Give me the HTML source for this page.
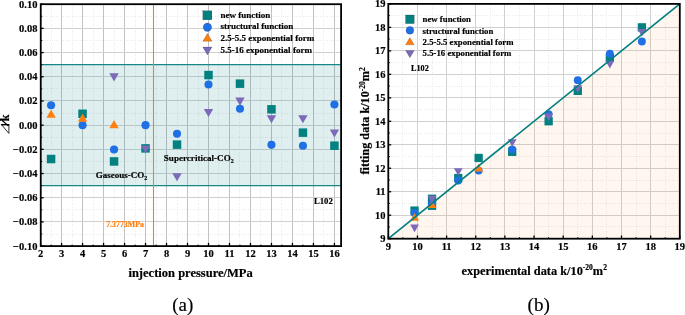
<!DOCTYPE html>
<html><head><meta charset="utf-8"><title>chart</title>
<style>html,body{margin:0;padding:0;background:#fff;}body{width:685px;height:315px;overflow:hidden;font-family:"Liberation Serif",serif;}</style>
</head><body>
<svg width="685" height="315" viewBox="0 0 685 315" style="display:block;will-change:transform">
<rect width="685" height="315" fill="#fff"/>
<g>
<line x1="51.09" x2="51.09" y1="4.2" y2="246.1" stroke="#ececec" stroke-width="1" stroke-dasharray="1 1.2" shape-rendering="crispEdges"/>
<line x1="72.08" x2="72.08" y1="4.2" y2="246.1" stroke="#ececec" stroke-width="1" stroke-dasharray="1 1.2" shape-rendering="crispEdges"/>
<line x1="93.07" x2="93.07" y1="4.2" y2="246.1" stroke="#ececec" stroke-width="1" stroke-dasharray="1 1.2" shape-rendering="crispEdges"/>
<line x1="114.05" x2="114.05" y1="4.2" y2="246.1" stroke="#ececec" stroke-width="1" stroke-dasharray="1 1.2" shape-rendering="crispEdges"/>
<line x1="135.04" x2="135.04" y1="4.2" y2="246.1" stroke="#ececec" stroke-width="1" stroke-dasharray="1 1.2" shape-rendering="crispEdges"/>
<line x1="156.03" x2="156.03" y1="4.2" y2="246.1" stroke="#ececec" stroke-width="1" stroke-dasharray="1 1.2" shape-rendering="crispEdges"/>
<line x1="177.02" x2="177.02" y1="4.2" y2="246.1" stroke="#ececec" stroke-width="1" stroke-dasharray="1 1.2" shape-rendering="crispEdges"/>
<line x1="198.00" x2="198.00" y1="4.2" y2="246.1" stroke="#ececec" stroke-width="1" stroke-dasharray="1 1.2" shape-rendering="crispEdges"/>
<line x1="218.99" x2="218.99" y1="4.2" y2="246.1" stroke="#ececec" stroke-width="1" stroke-dasharray="1 1.2" shape-rendering="crispEdges"/>
<line x1="239.98" x2="239.98" y1="4.2" y2="246.1" stroke="#ececec" stroke-width="1" stroke-dasharray="1 1.2" shape-rendering="crispEdges"/>
<line x1="260.96" x2="260.96" y1="4.2" y2="246.1" stroke="#ececec" stroke-width="1" stroke-dasharray="1 1.2" shape-rendering="crispEdges"/>
<line x1="281.95" x2="281.95" y1="4.2" y2="246.1" stroke="#ececec" stroke-width="1" stroke-dasharray="1 1.2" shape-rendering="crispEdges"/>
<line x1="302.94" x2="302.94" y1="4.2" y2="246.1" stroke="#ececec" stroke-width="1" stroke-dasharray="1 1.2" shape-rendering="crispEdges"/>
<line x1="323.92" x2="323.92" y1="4.2" y2="246.1" stroke="#ececec" stroke-width="1" stroke-dasharray="1 1.2" shape-rendering="crispEdges"/>
<line x1="40.75" x2="341.1" y1="16.30" y2="16.30" stroke="#ececec" stroke-width="1" stroke-dasharray="1 1.2" shape-rendering="crispEdges"/>
<line x1="40.75" x2="341.1" y1="40.49" y2="40.49" stroke="#ececec" stroke-width="1" stroke-dasharray="1 1.2" shape-rendering="crispEdges"/>
<line x1="40.75" x2="341.1" y1="64.68" y2="64.68" stroke="#ececec" stroke-width="1" stroke-dasharray="1 1.2" shape-rendering="crispEdges"/>
<line x1="40.75" x2="341.1" y1="88.87" y2="88.87" stroke="#ececec" stroke-width="1" stroke-dasharray="1 1.2" shape-rendering="crispEdges"/>
<line x1="40.75" x2="341.1" y1="113.06" y2="113.06" stroke="#ececec" stroke-width="1" stroke-dasharray="1 1.2" shape-rendering="crispEdges"/>
<line x1="40.75" x2="341.1" y1="137.25" y2="137.25" stroke="#ececec" stroke-width="1" stroke-dasharray="1 1.2" shape-rendering="crispEdges"/>
<line x1="40.75" x2="341.1" y1="161.44" y2="161.44" stroke="#ececec" stroke-width="1" stroke-dasharray="1 1.2" shape-rendering="crispEdges"/>
<line x1="40.75" x2="341.1" y1="185.62" y2="185.62" stroke="#ececec" stroke-width="1" stroke-dasharray="1 1.2" shape-rendering="crispEdges"/>
<line x1="40.75" x2="341.1" y1="209.81" y2="209.81" stroke="#ececec" stroke-width="1" stroke-dasharray="1 1.2" shape-rendering="crispEdges"/>
<line x1="40.75" x2="341.1" y1="234.00" y2="234.00" stroke="#ececec" stroke-width="1" stroke-dasharray="1 1.2" shape-rendering="crispEdges"/>
<line x1="61.59" x2="61.59" y1="4.2" y2="246.1" stroke="#c2c2c2" stroke-width="1" shape-rendering="crispEdges"/>
<line x1="82.57" x2="82.57" y1="4.2" y2="246.1" stroke="#c2c2c2" stroke-width="1" shape-rendering="crispEdges"/>
<line x1="103.56" x2="103.56" y1="4.2" y2="246.1" stroke="#c2c2c2" stroke-width="1" shape-rendering="crispEdges"/>
<line x1="124.55" x2="124.55" y1="4.2" y2="246.1" stroke="#c2c2c2" stroke-width="1" shape-rendering="crispEdges"/>
<line x1="145.53" x2="145.53" y1="4.2" y2="246.1" stroke="#c2c2c2" stroke-width="1" shape-rendering="crispEdges"/>
<line x1="166.52" x2="166.52" y1="4.2" y2="246.1" stroke="#c2c2c2" stroke-width="1" shape-rendering="crispEdges"/>
<line x1="187.51" x2="187.51" y1="4.2" y2="246.1" stroke="#c2c2c2" stroke-width="1" shape-rendering="crispEdges"/>
<line x1="208.50" x2="208.50" y1="4.2" y2="246.1" stroke="#c2c2c2" stroke-width="1" shape-rendering="crispEdges"/>
<line x1="229.48" x2="229.48" y1="4.2" y2="246.1" stroke="#c2c2c2" stroke-width="1" shape-rendering="crispEdges"/>
<line x1="250.47" x2="250.47" y1="4.2" y2="246.1" stroke="#c2c2c2" stroke-width="1" shape-rendering="crispEdges"/>
<line x1="271.46" x2="271.46" y1="4.2" y2="246.1" stroke="#c2c2c2" stroke-width="1" shape-rendering="crispEdges"/>
<line x1="292.44" x2="292.44" y1="4.2" y2="246.1" stroke="#c2c2c2" stroke-width="1" shape-rendering="crispEdges"/>
<line x1="313.43" x2="313.43" y1="4.2" y2="246.1" stroke="#c2c2c2" stroke-width="1" shape-rendering="crispEdges"/>
<line x1="334.42" x2="334.42" y1="4.2" y2="246.1" stroke="#c2c2c2" stroke-width="1" shape-rendering="crispEdges"/>
<line x1="40.75" x2="341.1" y1="28.39" y2="28.39" stroke="#d0d0d0" stroke-width="1" shape-rendering="crispEdges"/>
<line x1="40.75" x2="341.1" y1="52.58" y2="52.58" stroke="#d0d0d0" stroke-width="1" shape-rendering="crispEdges"/>
<line x1="40.75" x2="341.1" y1="76.77" y2="76.77" stroke="#d0d0d0" stroke-width="1" shape-rendering="crispEdges"/>
<line x1="40.75" x2="341.1" y1="100.96" y2="100.96" stroke="#d0d0d0" stroke-width="1" shape-rendering="crispEdges"/>
<line x1="40.75" x2="341.1" y1="125.15" y2="125.15" stroke="#d0d0d0" stroke-width="1" shape-rendering="crispEdges"/>
<line x1="40.75" x2="341.1" y1="149.34" y2="149.34" stroke="#d0d0d0" stroke-width="1" shape-rendering="crispEdges"/>
<line x1="40.75" x2="341.1" y1="173.53" y2="173.53" stroke="#d0d0d0" stroke-width="1" shape-rendering="crispEdges"/>
<line x1="40.75" x2="341.1" y1="197.72" y2="197.72" stroke="#d0d0d0" stroke-width="1" shape-rendering="crispEdges"/>
<line x1="40.75" x2="341.1" y1="221.91" y2="221.91" stroke="#d0d0d0" stroke-width="1" shape-rendering="crispEdges"/>
<rect x="40.75" y="64.67" width="300.35" height="120.95" fill="#008080" fill-opacity="0.125"/>
<line x1="40.75" x2="341.1" y1="64.67" y2="64.67" stroke="#178786" stroke-width="1.3"/>
<line x1="40.75" x2="341.1" y1="185.62" y2="185.62" stroke="#178786" stroke-width="1.3"/>
<line x1="153.5" x2="153.5" y1="4.2" y2="246.1" stroke="#ff7f0e" stroke-width="1.1"/>
<rect x="46.84" y="154.77" width="8.5" height="8.5" fill="#038080"/>
<rect x="78.32" y="109.53" width="8.5" height="8.5" fill="#038080"/>
<rect x="109.80" y="157.19" width="8.5" height="8.5" fill="#038080"/>
<rect x="141.28" y="144.12" width="8.5" height="8.5" fill="#038080"/>
<rect x="172.77" y="140.37" width="8.5" height="8.5" fill="#038080"/>
<rect x="204.25" y="70.83" width="8.5" height="8.5" fill="#038080"/>
<rect x="235.73" y="79.41" width="8.5" height="8.5" fill="#038080"/>
<rect x="267.21" y="105.06" width="8.5" height="8.5" fill="#038080"/>
<rect x="298.69" y="128.40" width="8.5" height="8.5" fill="#038080"/>
<rect x="330.17" y="141.46" width="8.5" height="8.5" fill="#038080"/>
<circle cx="51.09" cy="105.19" r="4.05" fill="#1f6fe5"/>
<circle cx="82.57" cy="125.15" r="4.05" fill="#1f6fe5"/>
<circle cx="114.05" cy="149.46" r="4.05" fill="#1f6fe5"/>
<circle cx="145.53" cy="125.15" r="4.05" fill="#1f6fe5"/>
<circle cx="177.02" cy="133.74" r="4.05" fill="#1f6fe5"/>
<circle cx="208.50" cy="84.51" r="4.05" fill="#1f6fe5"/>
<circle cx="239.98" cy="108.82" r="4.05" fill="#1f6fe5"/>
<circle cx="271.46" cy="144.86" r="4.05" fill="#1f6fe5"/>
<circle cx="302.94" cy="145.71" r="4.05" fill="#1f6fe5"/>
<circle cx="334.42" cy="104.47" r="4.05" fill="#1f6fe5"/>
<polygon points="51.09,109.57 55.79,117.67 46.39,117.67" fill="#ff7f0e"/>
<polygon points="82.57,113.56 87.27,121.66 77.87,121.66" fill="#ff7f0e"/>
<polygon points="114.05,120.09 118.75,128.19 109.35,128.19" fill="#ff7f0e"/>
<polygon points="109.35,73.37 118.75,73.37 114.05,81.47" fill="#7c69b8"/>
<polygon points="140.84,145.45 150.23,145.45 145.53,153.55" fill="#7c69b8"/>
<polygon points="172.32,173.15 181.72,173.15 177.02,181.25" fill="#7c69b8"/>
<polygon points="203.80,108.93 213.20,108.93 208.50,117.03" fill="#7c69b8"/>
<polygon points="235.28,97.56 244.68,97.56 239.98,105.66" fill="#7c69b8"/>
<polygon points="266.76,115.22 276.16,115.22 271.46,123.32" fill="#7c69b8"/>
<polygon points="298.24,115.22 307.64,115.22 302.94,123.32" fill="#7c69b8"/>
<polygon points="329.72,129.49 339.12,129.49 334.42,137.59" fill="#7c69b8"/>
<line x1="40.60" x2="40.60" y1="246.1" y2="242.9" stroke="#000" stroke-width="1.3"/>
<line x1="61.59" x2="61.59" y1="246.1" y2="242.9" stroke="#000" stroke-width="1.3"/>
<line x1="82.57" x2="82.57" y1="246.1" y2="242.9" stroke="#000" stroke-width="1.3"/>
<line x1="103.56" x2="103.56" y1="246.1" y2="242.9" stroke="#000" stroke-width="1.3"/>
<line x1="124.55" x2="124.55" y1="246.1" y2="242.9" stroke="#000" stroke-width="1.3"/>
<line x1="145.53" x2="145.53" y1="246.1" y2="242.9" stroke="#000" stroke-width="1.3"/>
<line x1="166.52" x2="166.52" y1="246.1" y2="242.9" stroke="#000" stroke-width="1.3"/>
<line x1="187.51" x2="187.51" y1="246.1" y2="242.9" stroke="#000" stroke-width="1.3"/>
<line x1="208.50" x2="208.50" y1="246.1" y2="242.9" stroke="#000" stroke-width="1.3"/>
<line x1="229.48" x2="229.48" y1="246.1" y2="242.9" stroke="#000" stroke-width="1.3"/>
<line x1="250.47" x2="250.47" y1="246.1" y2="242.9" stroke="#000" stroke-width="1.3"/>
<line x1="271.46" x2="271.46" y1="246.1" y2="242.9" stroke="#000" stroke-width="1.3"/>
<line x1="292.44" x2="292.44" y1="246.1" y2="242.9" stroke="#000" stroke-width="1.3"/>
<line x1="313.43" x2="313.43" y1="246.1" y2="242.9" stroke="#000" stroke-width="1.3"/>
<line x1="334.42" x2="334.42" y1="246.1" y2="242.9" stroke="#000" stroke-width="1.3"/>
<line x1="51.09" x2="51.09" y1="246.1" y2="244.6" stroke="#000" stroke-width="1.0"/>
<line x1="72.08" x2="72.08" y1="246.1" y2="244.6" stroke="#000" stroke-width="1.0"/>
<line x1="93.07" x2="93.07" y1="246.1" y2="244.6" stroke="#000" stroke-width="1.0"/>
<line x1="114.05" x2="114.05" y1="246.1" y2="244.6" stroke="#000" stroke-width="1.0"/>
<line x1="135.04" x2="135.04" y1="246.1" y2="244.6" stroke="#000" stroke-width="1.0"/>
<line x1="156.03" x2="156.03" y1="246.1" y2="244.6" stroke="#000" stroke-width="1.0"/>
<line x1="177.02" x2="177.02" y1="246.1" y2="244.6" stroke="#000" stroke-width="1.0"/>
<line x1="198.00" x2="198.00" y1="246.1" y2="244.6" stroke="#000" stroke-width="1.0"/>
<line x1="218.99" x2="218.99" y1="246.1" y2="244.6" stroke="#000" stroke-width="1.0"/>
<line x1="239.98" x2="239.98" y1="246.1" y2="244.6" stroke="#000" stroke-width="1.0"/>
<line x1="260.96" x2="260.96" y1="246.1" y2="244.6" stroke="#000" stroke-width="1.0"/>
<line x1="281.95" x2="281.95" y1="246.1" y2="244.6" stroke="#000" stroke-width="1.0"/>
<line x1="302.94" x2="302.94" y1="246.1" y2="244.6" stroke="#000" stroke-width="1.0"/>
<line x1="323.92" x2="323.92" y1="246.1" y2="244.6" stroke="#000" stroke-width="1.0"/>
<line x1="40.75" x2="43.65" y1="4.20" y2="4.20" stroke="#000" stroke-width="1.3"/>
<line x1="40.75" x2="43.65" y1="28.39" y2="28.39" stroke="#000" stroke-width="1.3"/>
<line x1="40.75" x2="43.65" y1="52.58" y2="52.58" stroke="#000" stroke-width="1.3"/>
<line x1="40.75" x2="43.65" y1="76.77" y2="76.77" stroke="#000" stroke-width="1.3"/>
<line x1="40.75" x2="43.65" y1="100.96" y2="100.96" stroke="#000" stroke-width="1.3"/>
<line x1="40.75" x2="43.65" y1="125.15" y2="125.15" stroke="#000" stroke-width="1.3"/>
<line x1="40.75" x2="43.65" y1="149.34" y2="149.34" stroke="#000" stroke-width="1.3"/>
<line x1="40.75" x2="43.65" y1="173.53" y2="173.53" stroke="#000" stroke-width="1.3"/>
<line x1="40.75" x2="43.65" y1="197.72" y2="197.72" stroke="#000" stroke-width="1.3"/>
<line x1="40.75" x2="43.65" y1="221.91" y2="221.91" stroke="#000" stroke-width="1.3"/>
<line x1="40.75" x2="43.65" y1="246.10" y2="246.10" stroke="#000" stroke-width="1.3"/>
<line x1="40.75" x2="42.25" y1="16.30" y2="16.30" stroke="#000" stroke-width="1.0"/>
<line x1="40.75" x2="42.25" y1="40.49" y2="40.49" stroke="#000" stroke-width="1.0"/>
<line x1="40.75" x2="42.25" y1="64.68" y2="64.68" stroke="#000" stroke-width="1.0"/>
<line x1="40.75" x2="42.25" y1="88.87" y2="88.87" stroke="#000" stroke-width="1.0"/>
<line x1="40.75" x2="42.25" y1="113.06" y2="113.06" stroke="#000" stroke-width="1.0"/>
<line x1="40.75" x2="42.25" y1="137.25" y2="137.25" stroke="#000" stroke-width="1.0"/>
<line x1="40.75" x2="42.25" y1="161.44" y2="161.44" stroke="#000" stroke-width="1.0"/>
<line x1="40.75" x2="42.25" y1="185.62" y2="185.62" stroke="#000" stroke-width="1.0"/>
<line x1="40.75" x2="42.25" y1="209.81" y2="209.81" stroke="#000" stroke-width="1.0"/>
<line x1="40.75" x2="42.25" y1="234.00" y2="234.00" stroke="#000" stroke-width="1.0"/>
<rect x="40.75" y="4.2" width="300.35" height="241.9" fill="none" stroke="#000" stroke-width="1.8"/>
</g>
<g font-family="Liberation Serif, serif" font-weight="bold" fill="#000" stroke="#000" stroke-width="0.18">
<text x="37.4" y="7.70" font-size="10.5" text-anchor="end">0.10</text>
<text x="37.4" y="31.89" font-size="10.5" text-anchor="end">0.08</text>
<text x="37.4" y="56.08" font-size="10.5" text-anchor="end">0.06</text>
<text x="37.4" y="80.27" font-size="10.5" text-anchor="end">0.04</text>
<text x="37.4" y="104.46" font-size="10.5" text-anchor="end">0.02</text>
<text x="37.4" y="128.65" font-size="10.5" text-anchor="end">0.00</text>
<text x="37.4" y="152.84" font-size="10.5" text-anchor="end">−0.02</text>
<text x="37.4" y="177.03" font-size="10.5" text-anchor="end">−0.04</text>
<text x="37.4" y="201.22" font-size="10.5" text-anchor="end">−0.06</text>
<text x="37.4" y="225.41" font-size="10.5" text-anchor="end">−0.08</text>
<text x="37.4" y="249.60" font-size="10.5" text-anchor="end">−0.10</text>
<text x="40.60" y="257.4" font-size="10.5" text-anchor="middle">2</text>
<text x="61.59" y="257.4" font-size="10.5" text-anchor="middle">3</text>
<text x="82.57" y="257.4" font-size="10.5" text-anchor="middle">4</text>
<text x="103.56" y="257.4" font-size="10.5" text-anchor="middle">5</text>
<text x="124.55" y="257.4" font-size="10.5" text-anchor="middle">6</text>
<text x="145.53" y="257.4" font-size="10.5" text-anchor="middle">7</text>
<text x="166.52" y="257.4" font-size="10.5" text-anchor="middle">8</text>
<text x="187.51" y="257.4" font-size="10.5" text-anchor="middle">9</text>
<text x="208.50" y="257.4" font-size="10.5" text-anchor="middle">10</text>
<text x="229.48" y="257.4" font-size="10.5" text-anchor="middle">11</text>
<text x="250.47" y="257.4" font-size="10.5" text-anchor="middle">12</text>
<text x="271.46" y="257.4" font-size="10.5" text-anchor="middle">13</text>
<text x="292.44" y="257.4" font-size="10.5" text-anchor="middle">14</text>
<text x="313.43" y="257.4" font-size="10.5" text-anchor="middle">15</text>
<text x="334.42" y="257.4" font-size="10.5" text-anchor="middle">16</text>
<text x="190.6" y="276.8" font-size="12.53" text-anchor="middle" id="lxl">injection pressure/MPa</text>
<text transform="translate(9.3,121.3) rotate(-90)" font-size="12.2" id="lyl">k</text>
<line x1="8.4" y1="125.9" x2="2.0" y2="120.3" stroke="#000" stroke-width="1.25"/>
<path d="M8.9,133.4 L8.9,124.6 L1.4,124.6 Z" fill="none" stroke="#000" stroke-width="0.8" stroke-linejoin="miter"/>
<line x1="9.3" y1="124.7" x2="1.0" y2="124.7" stroke="#000" stroke-width="1.3"/>
<text x="182.8" y="310.9" font-size="18.95" text-anchor="middle" font-weight="normal" id="la">(a)</text>
<rect x="202.90" y="10.80" width="9.0" height="9.0" fill="#038080"/>
<circle cx="207.40" cy="27.20" r="4.2" fill="#1f6fe5"/>
<polygon points="207.40,33.48 212.00,41.28 202.80,41.28" fill="#ff7f0e"/>
<polygon points="202.80,47.12 212.00,47.12 207.40,54.92" fill="#7c69b8"/>
<text x="220.5" y="18.1" font-size="9.03" class="lleg">new function</text>
<text x="220.5" y="29.3" font-size="9.03" class="lleg">structural function</text>
<text x="220.5" y="41.3" font-size="9.03" class="lleg">2.5-5.5 exponential form</text>
<text x="220.5" y="52.5" font-size="9.03" class="lleg">5.5-16 exponential form</text>
<text x="313.9" y="204.3" font-size="8.73" id="ll102">L102</text>
<text x="95.8" y="178" font-size="9" id="gas">Gaseous-CO<tspan font-size="6" dy="2">2</tspan></text>
<text x="163.8" y="161.0" font-size="9.08" id="sup">Supercritical-CO<tspan font-size="6" dy="2">2</tspan></text>
<text x="106.2" y="226.7" font-size="7.87" fill="#ff7f0e" stroke="#ff7f0e" id="mpa">7.3773MPa</text>
</g>
<g>
<line x1="402.88" x2="402.88" y1="3.9" y2="238.7" stroke="#ececec" stroke-width="1" stroke-dasharray="1 1.2" shape-rendering="crispEdges"/>
<line x1="388.3" x2="679.8" y1="226.96" y2="226.96" stroke="#ececec" stroke-width="1" stroke-dasharray="1 1.2" shape-rendering="crispEdges"/>
<line x1="432.02" x2="432.02" y1="3.9" y2="238.7" stroke="#ececec" stroke-width="1" stroke-dasharray="1 1.2" shape-rendering="crispEdges"/>
<line x1="388.3" x2="679.8" y1="203.48" y2="203.48" stroke="#ececec" stroke-width="1" stroke-dasharray="1 1.2" shape-rendering="crispEdges"/>
<line x1="461.18" x2="461.18" y1="3.9" y2="238.7" stroke="#ececec" stroke-width="1" stroke-dasharray="1 1.2" shape-rendering="crispEdges"/>
<line x1="388.3" x2="679.8" y1="180.00" y2="180.00" stroke="#ececec" stroke-width="1" stroke-dasharray="1 1.2" shape-rendering="crispEdges"/>
<line x1="490.32" x2="490.32" y1="3.9" y2="238.7" stroke="#ececec" stroke-width="1" stroke-dasharray="1 1.2" shape-rendering="crispEdges"/>
<line x1="388.3" x2="679.8" y1="156.52" y2="156.52" stroke="#ececec" stroke-width="1" stroke-dasharray="1 1.2" shape-rendering="crispEdges"/>
<line x1="519.48" x2="519.48" y1="3.9" y2="238.7" stroke="#ececec" stroke-width="1" stroke-dasharray="1 1.2" shape-rendering="crispEdges"/>
<line x1="388.3" x2="679.8" y1="133.04" y2="133.04" stroke="#ececec" stroke-width="1" stroke-dasharray="1 1.2" shape-rendering="crispEdges"/>
<line x1="548.62" x2="548.62" y1="3.9" y2="238.7" stroke="#ececec" stroke-width="1" stroke-dasharray="1 1.2" shape-rendering="crispEdges"/>
<line x1="388.3" x2="679.8" y1="109.56" y2="109.56" stroke="#ececec" stroke-width="1" stroke-dasharray="1 1.2" shape-rendering="crispEdges"/>
<line x1="577.77" x2="577.77" y1="3.9" y2="238.7" stroke="#ececec" stroke-width="1" stroke-dasharray="1 1.2" shape-rendering="crispEdges"/>
<line x1="388.3" x2="679.8" y1="86.08" y2="86.08" stroke="#ececec" stroke-width="1" stroke-dasharray="1 1.2" shape-rendering="crispEdges"/>
<line x1="606.92" x2="606.92" y1="3.9" y2="238.7" stroke="#ececec" stroke-width="1" stroke-dasharray="1 1.2" shape-rendering="crispEdges"/>
<line x1="388.3" x2="679.8" y1="62.60" y2="62.60" stroke="#ececec" stroke-width="1" stroke-dasharray="1 1.2" shape-rendering="crispEdges"/>
<line x1="636.07" x2="636.07" y1="3.9" y2="238.7" stroke="#ececec" stroke-width="1" stroke-dasharray="1 1.2" shape-rendering="crispEdges"/>
<line x1="388.3" x2="679.8" y1="39.12" y2="39.12" stroke="#ececec" stroke-width="1" stroke-dasharray="1 1.2" shape-rendering="crispEdges"/>
<line x1="665.22" x2="665.22" y1="3.9" y2="238.7" stroke="#ececec" stroke-width="1" stroke-dasharray="1 1.2" shape-rendering="crispEdges"/>
<line x1="388.3" x2="679.8" y1="15.64" y2="15.64" stroke="#ececec" stroke-width="1" stroke-dasharray="1 1.2" shape-rendering="crispEdges"/>
<line x1="417.45" x2="417.45" y1="3.9" y2="238.7" stroke="#d0d0d0" stroke-width="1" shape-rendering="crispEdges"/>
<line x1="388.3" x2="679.8" y1="215.22" y2="215.22" stroke="#d0d0d0" stroke-width="1" shape-rendering="crispEdges"/>
<line x1="446.60" x2="446.60" y1="3.9" y2="238.7" stroke="#d0d0d0" stroke-width="1" shape-rendering="crispEdges"/>
<line x1="388.3" x2="679.8" y1="191.74" y2="191.74" stroke="#d0d0d0" stroke-width="1" shape-rendering="crispEdges"/>
<line x1="475.75" x2="475.75" y1="3.9" y2="238.7" stroke="#d0d0d0" stroke-width="1" shape-rendering="crispEdges"/>
<line x1="388.3" x2="679.8" y1="168.26" y2="168.26" stroke="#d0d0d0" stroke-width="1" shape-rendering="crispEdges"/>
<line x1="504.90" x2="504.90" y1="3.9" y2="238.7" stroke="#d0d0d0" stroke-width="1" shape-rendering="crispEdges"/>
<line x1="388.3" x2="679.8" y1="144.78" y2="144.78" stroke="#d0d0d0" stroke-width="1" shape-rendering="crispEdges"/>
<line x1="534.05" x2="534.05" y1="3.9" y2="238.7" stroke="#d0d0d0" stroke-width="1" shape-rendering="crispEdges"/>
<line x1="388.3" x2="679.8" y1="121.30" y2="121.30" stroke="#d0d0d0" stroke-width="1" shape-rendering="crispEdges"/>
<line x1="563.20" x2="563.20" y1="3.9" y2="238.7" stroke="#d0d0d0" stroke-width="1" shape-rendering="crispEdges"/>
<line x1="388.3" x2="679.8" y1="97.82" y2="97.82" stroke="#d0d0d0" stroke-width="1" shape-rendering="crispEdges"/>
<line x1="592.35" x2="592.35" y1="3.9" y2="238.7" stroke="#d0d0d0" stroke-width="1" shape-rendering="crispEdges"/>
<line x1="388.3" x2="679.8" y1="74.34" y2="74.34" stroke="#d0d0d0" stroke-width="1" shape-rendering="crispEdges"/>
<line x1="621.50" x2="621.50" y1="3.9" y2="238.7" stroke="#d0d0d0" stroke-width="1" shape-rendering="crispEdges"/>
<line x1="388.3" x2="679.8" y1="50.86" y2="50.86" stroke="#d0d0d0" stroke-width="1" shape-rendering="crispEdges"/>
<line x1="650.65" x2="650.65" y1="3.9" y2="238.7" stroke="#d0d0d0" stroke-width="1" shape-rendering="crispEdges"/>
<line x1="388.3" x2="679.8" y1="27.38" y2="27.38" stroke="#d0d0d0" stroke-width="1" shape-rendering="crispEdges"/>
<polygon points="388.3,238.7 679.8,3.9 679.8,238.7" fill="#ff7f0e" fill-opacity="0.065"/>
<rect x="474.51" y="153.81" width="8.3" height="8.3" fill="#038080"/>
<rect x="427.88" y="201.65" width="8.3" height="8.3" fill="#038080"/>
<rect x="410.39" y="206.44" width="8.3" height="8.3" fill="#038080"/>
<rect x="427.88" y="194.60" width="8.3" height="8.3" fill="#038080"/>
<rect x="454.11" y="173.89" width="8.3" height="8.3" fill="#038080"/>
<rect x="508.04" y="147.64" width="8.3" height="8.3" fill="#038080"/>
<rect x="544.48" y="117.09" width="8.3" height="8.3" fill="#038080"/>
<rect x="573.62" y="86.70" width="8.3" height="8.3" fill="#038080"/>
<rect x="605.69" y="53.69" width="8.3" height="8.3" fill="#038080"/>
<rect x="637.75" y="23.21" width="8.3" height="8.3" fill="#038080"/>
<circle cx="478.66" cy="170.60" r="3.95" fill="#1f6fe5"/>
<circle cx="432.02" cy="203.48" r="3.95" fill="#1f6fe5"/>
<circle cx="414.54" cy="212.90" r="3.95" fill="#1f6fe5"/>
<circle cx="432.02" cy="203.48" r="3.95" fill="#1f6fe5"/>
<circle cx="458.26" cy="180.45" r="3.95" fill="#1f6fe5"/>
<circle cx="512.19" cy="149.36" r="3.95" fill="#1f6fe5"/>
<circle cx="548.62" cy="114.16" r="3.95" fill="#1f6fe5"/>
<circle cx="577.77" cy="80.15" r="3.95" fill="#1f6fe5"/>
<circle cx="609.84" cy="53.63" r="3.95" fill="#1f6fe5"/>
<circle cx="641.90" cy="41.53" r="3.95" fill="#1f6fe5"/>
<polygon points="478.66,163.86 483.06,171.46 474.26,171.46" fill="#ff7f0e"/>
<polygon points="432.02,200.28 436.42,207.88 427.62,207.88" fill="#ff7f0e"/>
<polygon points="414.54,213.03 418.94,220.63 410.14,220.63" fill="#ff7f0e"/>
<polygon points="410.14,224.59 418.94,224.59 414.54,232.19" fill="#7c69b8"/>
<polygon points="427.62,195.83 436.42,195.83 432.02,203.43" fill="#7c69b8"/>
<polygon points="453.86,168.24 462.66,168.24 458.26,175.84" fill="#7c69b8"/>
<polygon points="507.79,139.24 516.59,139.24 512.19,146.84" fill="#7c69b8"/>
<polygon points="544.23,113.41 553.02,113.41 548.62,121.01" fill="#7c69b8"/>
<polygon points="573.38,85.24 582.17,85.24 577.77,92.84" fill="#7c69b8"/>
<polygon points="605.44,60.82 614.24,60.82 609.84,68.42" fill="#7c69b8"/>
<polygon points="637.50,28.88 646.30,28.88 641.90,36.48" fill="#7c69b8"/>
<line x1="388.3" y1="238.7" x2="679.8" y2="3.9" stroke="#038080" stroke-width="1.7"/>
<line x1="388.30" x2="388.30" y1="238.7" y2="235.5" stroke="#000" stroke-width="1.3"/>
<line x1="388.3" x2="391.2" y1="238.70" y2="238.70" stroke="#000" stroke-width="1.3"/>
<line x1="417.45" x2="417.45" y1="238.7" y2="235.5" stroke="#000" stroke-width="1.3"/>
<line x1="388.3" x2="391.2" y1="215.22" y2="215.22" stroke="#000" stroke-width="1.3"/>
<line x1="446.60" x2="446.60" y1="238.7" y2="235.5" stroke="#000" stroke-width="1.3"/>
<line x1="388.3" x2="391.2" y1="191.74" y2="191.74" stroke="#000" stroke-width="1.3"/>
<line x1="475.75" x2="475.75" y1="238.7" y2="235.5" stroke="#000" stroke-width="1.3"/>
<line x1="388.3" x2="391.2" y1="168.26" y2="168.26" stroke="#000" stroke-width="1.3"/>
<line x1="504.90" x2="504.90" y1="238.7" y2="235.5" stroke="#000" stroke-width="1.3"/>
<line x1="388.3" x2="391.2" y1="144.78" y2="144.78" stroke="#000" stroke-width="1.3"/>
<line x1="534.05" x2="534.05" y1="238.7" y2="235.5" stroke="#000" stroke-width="1.3"/>
<line x1="388.3" x2="391.2" y1="121.30" y2="121.30" stroke="#000" stroke-width="1.3"/>
<line x1="563.20" x2="563.20" y1="238.7" y2="235.5" stroke="#000" stroke-width="1.3"/>
<line x1="388.3" x2="391.2" y1="97.82" y2="97.82" stroke="#000" stroke-width="1.3"/>
<line x1="592.35" x2="592.35" y1="238.7" y2="235.5" stroke="#000" stroke-width="1.3"/>
<line x1="388.3" x2="391.2" y1="74.34" y2="74.34" stroke="#000" stroke-width="1.3"/>
<line x1="621.50" x2="621.50" y1="238.7" y2="235.5" stroke="#000" stroke-width="1.3"/>
<line x1="388.3" x2="391.2" y1="50.86" y2="50.86" stroke="#000" stroke-width="1.3"/>
<line x1="650.65" x2="650.65" y1="238.7" y2="235.5" stroke="#000" stroke-width="1.3"/>
<line x1="388.3" x2="391.2" y1="27.38" y2="27.38" stroke="#000" stroke-width="1.3"/>
<line x1="679.80" x2="679.80" y1="238.7" y2="235.5" stroke="#000" stroke-width="1.3"/>
<line x1="388.3" x2="391.2" y1="3.90" y2="3.90" stroke="#000" stroke-width="1.3"/>
<line x1="402.88" x2="402.88" y1="238.7" y2="237.2" stroke="#000" stroke-width="1.0"/>
<line x1="388.3" x2="389.8" y1="226.96" y2="226.96" stroke="#000" stroke-width="1.0"/>
<line x1="432.02" x2="432.02" y1="238.7" y2="237.2" stroke="#000" stroke-width="1.0"/>
<line x1="388.3" x2="389.8" y1="203.48" y2="203.48" stroke="#000" stroke-width="1.0"/>
<line x1="461.18" x2="461.18" y1="238.7" y2="237.2" stroke="#000" stroke-width="1.0"/>
<line x1="388.3" x2="389.8" y1="180.00" y2="180.00" stroke="#000" stroke-width="1.0"/>
<line x1="490.32" x2="490.32" y1="238.7" y2="237.2" stroke="#000" stroke-width="1.0"/>
<line x1="388.3" x2="389.8" y1="156.52" y2="156.52" stroke="#000" stroke-width="1.0"/>
<line x1="519.48" x2="519.48" y1="238.7" y2="237.2" stroke="#000" stroke-width="1.0"/>
<line x1="388.3" x2="389.8" y1="133.04" y2="133.04" stroke="#000" stroke-width="1.0"/>
<line x1="548.62" x2="548.62" y1="238.7" y2="237.2" stroke="#000" stroke-width="1.0"/>
<line x1="388.3" x2="389.8" y1="109.56" y2="109.56" stroke="#000" stroke-width="1.0"/>
<line x1="577.77" x2="577.77" y1="238.7" y2="237.2" stroke="#000" stroke-width="1.0"/>
<line x1="388.3" x2="389.8" y1="86.08" y2="86.08" stroke="#000" stroke-width="1.0"/>
<line x1="606.92" x2="606.92" y1="238.7" y2="237.2" stroke="#000" stroke-width="1.0"/>
<line x1="388.3" x2="389.8" y1="62.60" y2="62.60" stroke="#000" stroke-width="1.0"/>
<line x1="636.07" x2="636.07" y1="238.7" y2="237.2" stroke="#000" stroke-width="1.0"/>
<line x1="388.3" x2="389.8" y1="39.12" y2="39.12" stroke="#000" stroke-width="1.0"/>
<line x1="665.22" x2="665.22" y1="238.7" y2="237.2" stroke="#000" stroke-width="1.0"/>
<line x1="388.3" x2="389.8" y1="15.64" y2="15.64" stroke="#000" stroke-width="1.0"/>
<rect x="388.3" y="3.9" width="291.49999999999994" height="234.79999999999998" fill="none" stroke="#000" stroke-width="1.8"/>
</g>
<g font-family="Liberation Serif, serif" font-weight="bold" fill="#000" stroke="#000" stroke-width="0.18">
<text x="385.6" y="242.20" font-size="10.5" text-anchor="end">9</text>
<text x="388.30" y="250.3" font-size="10.5" text-anchor="middle">9</text>
<text x="385.6" y="218.72" font-size="10.5" text-anchor="end">10</text>
<text x="417.45" y="250.3" font-size="10.5" text-anchor="middle">10</text>
<text x="385.6" y="195.24" font-size="10.5" text-anchor="end">11</text>
<text x="446.60" y="250.3" font-size="10.5" text-anchor="middle">11</text>
<text x="385.6" y="171.76" font-size="10.5" text-anchor="end">12</text>
<text x="475.75" y="250.3" font-size="10.5" text-anchor="middle">12</text>
<text x="385.6" y="148.28" font-size="10.5" text-anchor="end">13</text>
<text x="504.90" y="250.3" font-size="10.5" text-anchor="middle">13</text>
<text x="385.6" y="124.80" font-size="10.5" text-anchor="end">14</text>
<text x="534.05" y="250.3" font-size="10.5" text-anchor="middle">14</text>
<text x="385.6" y="101.32" font-size="10.5" text-anchor="end">15</text>
<text x="563.20" y="250.3" font-size="10.5" text-anchor="middle">15</text>
<text x="385.6" y="77.84" font-size="10.5" text-anchor="end">16</text>
<text x="592.35" y="250.3" font-size="10.5" text-anchor="middle">16</text>
<text x="385.6" y="54.36" font-size="10.5" text-anchor="end">17</text>
<text x="621.50" y="250.3" font-size="10.5" text-anchor="middle">17</text>
<text x="385.6" y="30.88" font-size="10.5" text-anchor="end">18</text>
<text x="650.65" y="250.3" font-size="10.5" text-anchor="middle">18</text>
<text x="385.6" y="7.40" font-size="10.5" text-anchor="end">19</text>
<text x="679.80" y="250.3" font-size="10.5" text-anchor="middle">19</text>
<text x="534.2" y="274.9" font-size="12.35" text-anchor="middle" id="rxl">experimental data k/10<tspan font-size="7.5" dy="-4.5">-20</tspan><tspan dy="4.5">m</tspan><tspan font-size="7.5" dy="-4.5">2</tspan></text>
<text transform="translate(369.3,120.9) rotate(-90)" font-size="12.2" text-anchor="middle" id="ryl">fitting data k/10<tspan font-size="7.5" dy="-4.5">-20</tspan><tspan dy="4.5">m</tspan><tspan font-size="7.5" dy="-4.5">2</tspan></text>
<text x="538.7" y="311.0" font-size="19.1" text-anchor="middle" font-weight="normal" id="rb">(b)</text>
<rect x="405.60" y="15.00" width="8.6" height="8.6" fill="#038080"/>
<circle cx="409.90" cy="30.30" r="3.9" fill="#1f6fe5"/>
<polygon points="409.90,37.62 414.20,44.82 405.60,44.82" fill="#ff7f0e"/>
<polygon points="405.60,50.58 414.20,50.58 409.90,57.78" fill="#7c69b8"/>
<text x="422.6" y="22.1" font-size="8.75" class="rleg">new function</text>
<text x="422.6" y="33.5" font-size="8.75" class="rleg">structural function</text>
<text x="422.6" y="44.7" font-size="8.75" class="rleg">2.5-5.5 exponential form</text>
<text x="422.6" y="55.7" font-size="8.75" class="rleg">5.5-16 exponential form</text>
<text x="411" y="70.5" font-size="8.2" id="rl102">L102</text>
</g>
</svg>
</body></html>
